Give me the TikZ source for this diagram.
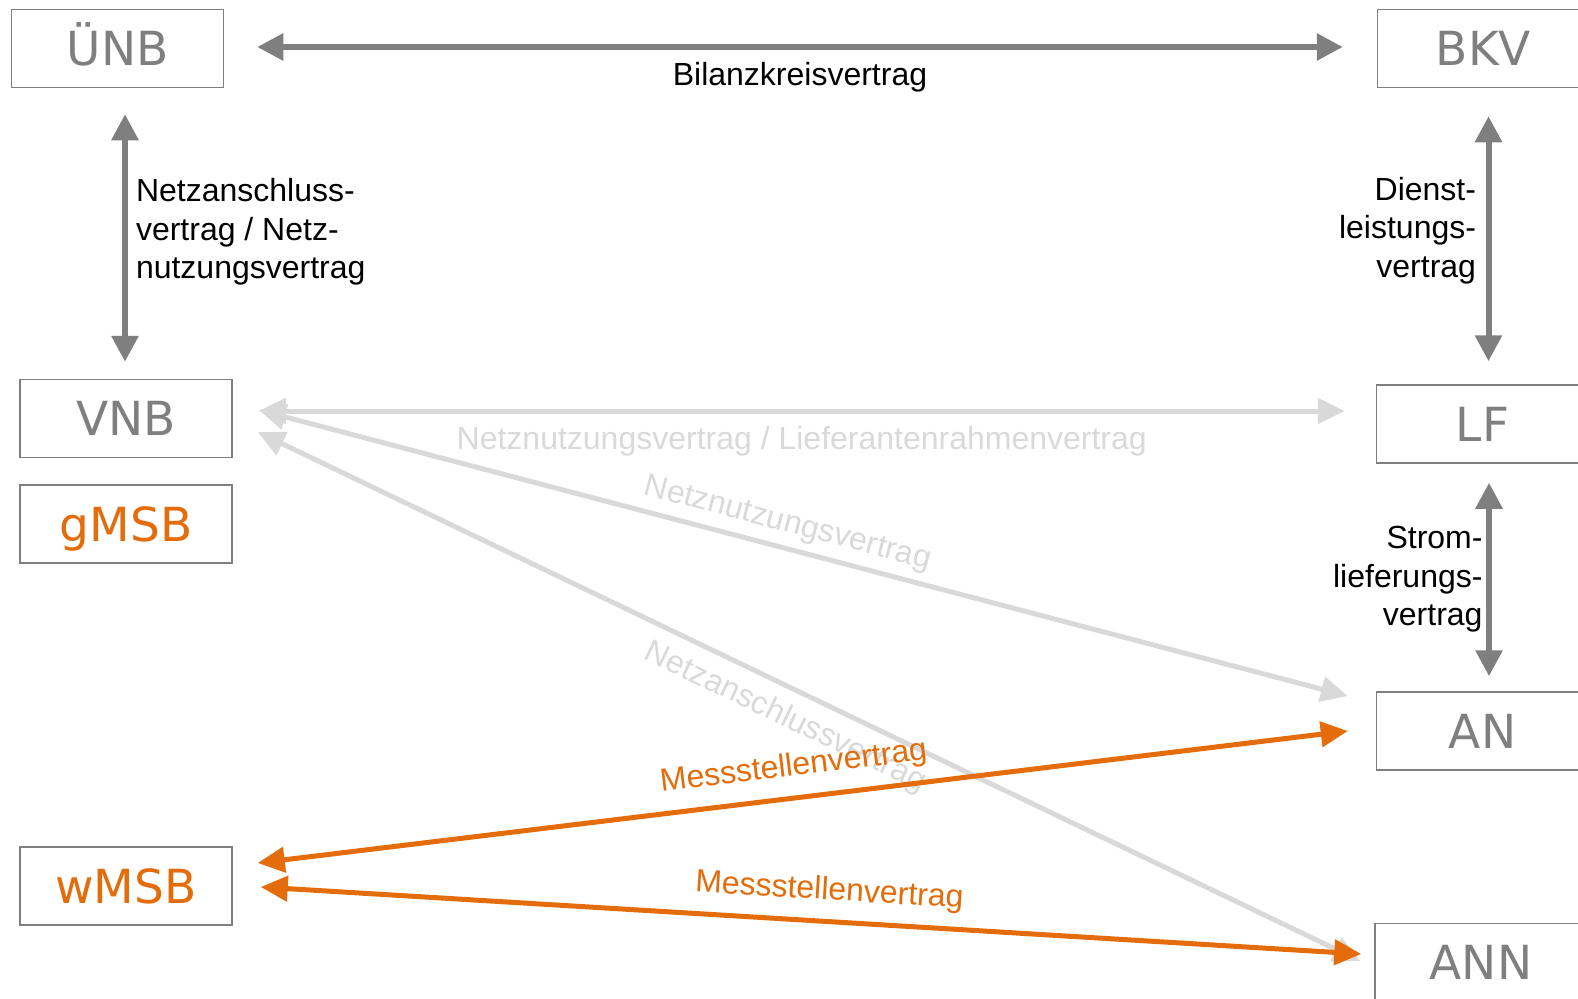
\documentclass[tikz,border=0pt]{standalone}
\usepackage{fontspec}
\setmainfont{Liberation Sans}
\newfontfamily\boxfont{DejaVu Sans}
\usepackage{tikz}
\usetikzlibrary{positioning, arrows.meta, calc}
\definecolor{boxB}{HTML}{7F7F7F}
\definecolor{boxTxt}{HTML}{7F7F7F}
\definecolor{darkLine}{HTML}{7F7F7F}
\definecolor{lightLine}{HTML}{D9D9D9}
\definecolor{msbOrange}{HTML}{E46C0A}

\begin{document}
\begin{tikzpicture}[x=1pt,y=-1pt,
  box/.style={draw=boxB, line width=1.5pt, minimum width=212pt, minimum height=78pt, inner sep=0pt, font=\boxfont\fontsize{47}{56}\selectfont, text=boxTxt, text height=34pt, text depth=0pt},
  lbl/.style={font=\fontsize{32}{38.5}\selectfont, inner sep=0pt},
  darkArr/.style={draw=darkLine, line width=6pt, {Triangle[length=26pt,width=26pt]}-{Triangle[length=26pt,width=26pt]}},
  lightArr/.style={draw=lightLine, line width=5pt, {Triangle[length=27pt,width=25pt]}-{Triangle[length=27pt,width=25pt]}},
  msbArr/.style={draw=msbOrange, line width=5pt, {Triangle[length=27pt,width=25pt]}-{Triangle[length=27pt,width=25pt]}}]
\useasboundingbox (0,0) rectangle (1578,998);
% boxes
\node[box] (uenb) at (117.5,48.5) {ÜNB};
\node[box] (bkv) at (1483.5,48.5) {BKV};
\node[box] (vnb) at (126,418.5) {VNB};
\node[box, text=msbOrange] (gmsb) at (126,524) {gMSB};
\node[box] (lf) at (1482.5,424) {LF};
\node[box] (an) at (1482.5,731) {AN};
\node[box] (ann) at (1481,962.5) {ANN};
\node[box, text=msbOrange] (wmsb) at (126,886) {wMSB};
% dark contracts
\draw[darkArr] ($(uenb.east)+(33,-1.5)$) -- ($(bkv.west)+(-34,-1.5)$) node[lbl, midway, below=12pt] {Bilanzkreisvertrag};
\draw[darkArr] ($(uenb.south)+(7.5,26)$) -- ($(vnb.north)+(-1,-17)$) node[lbl, midway, anchor=west, align=left, xshift=8pt, yshift=6pt] {Netzanschluss-\\vertrag / Netz-\\nutzungsvertrag};
\draw[darkArr] ($(bkv.south)+(5,28)$) -- ($(lf.north)+(6,-23)$) node[lbl, midway, anchor=east, align=right, xshift=-9.5pt, yshift=8.5pt] {Dienst-\\leistungs-\\vertrag};
\draw[darkArr] ($(lf.south)+(6.5,19)$) -- ($(an.north)+(6.5,-15)$) node[lbl, midway, anchor=east, align=right, xshift=-3.5pt] {Strom-\\lieferungs-\\vertrag};
% light contracts
\draw[lightArr] ($(vnb.east)+(26,-7.5)$) -- ($(lf.west)+(-31,-13)$) node[lbl, text=lightLine, midway, below=13pt] {Netznutzungsvertrag / Lieferantenrahmenvertrag};
\draw[lightArr] ($(vnb.east)+(26,-8.5)$) -- ($(an.west)+(-28,-35)$) node[lbl, text=lightLine, pos=0.48, sloped, above=7pt] {Netznutzungsvertrag};
\draw[lightArr] ($(vnb.east)+(25,13.5)$) -- ($(ann.west)+(-14,-1.5)$) node[lbl, text=lightLine, pos=0.49, sloped, below=12pt] {Netzanschlussvertrag};
% metering contracts
\draw[msbArr] ($(wmsb.east)+(25,-23)$) -- ($(an.west)+(-28,0)$) node[lbl, text=msbOrange, pos=0.495, sloped, above=13pt] {Messstellenvertrag};
\draw[msbArr] ($(wmsb.east)+(28,1)$) -- ($(ann.west)+(-13,-8.5)$) node[lbl, text=msbOrange, pos=0.515, sloped, above=12.5pt] {Messstellenvertrag};
\end{tikzpicture}
\end{document}
